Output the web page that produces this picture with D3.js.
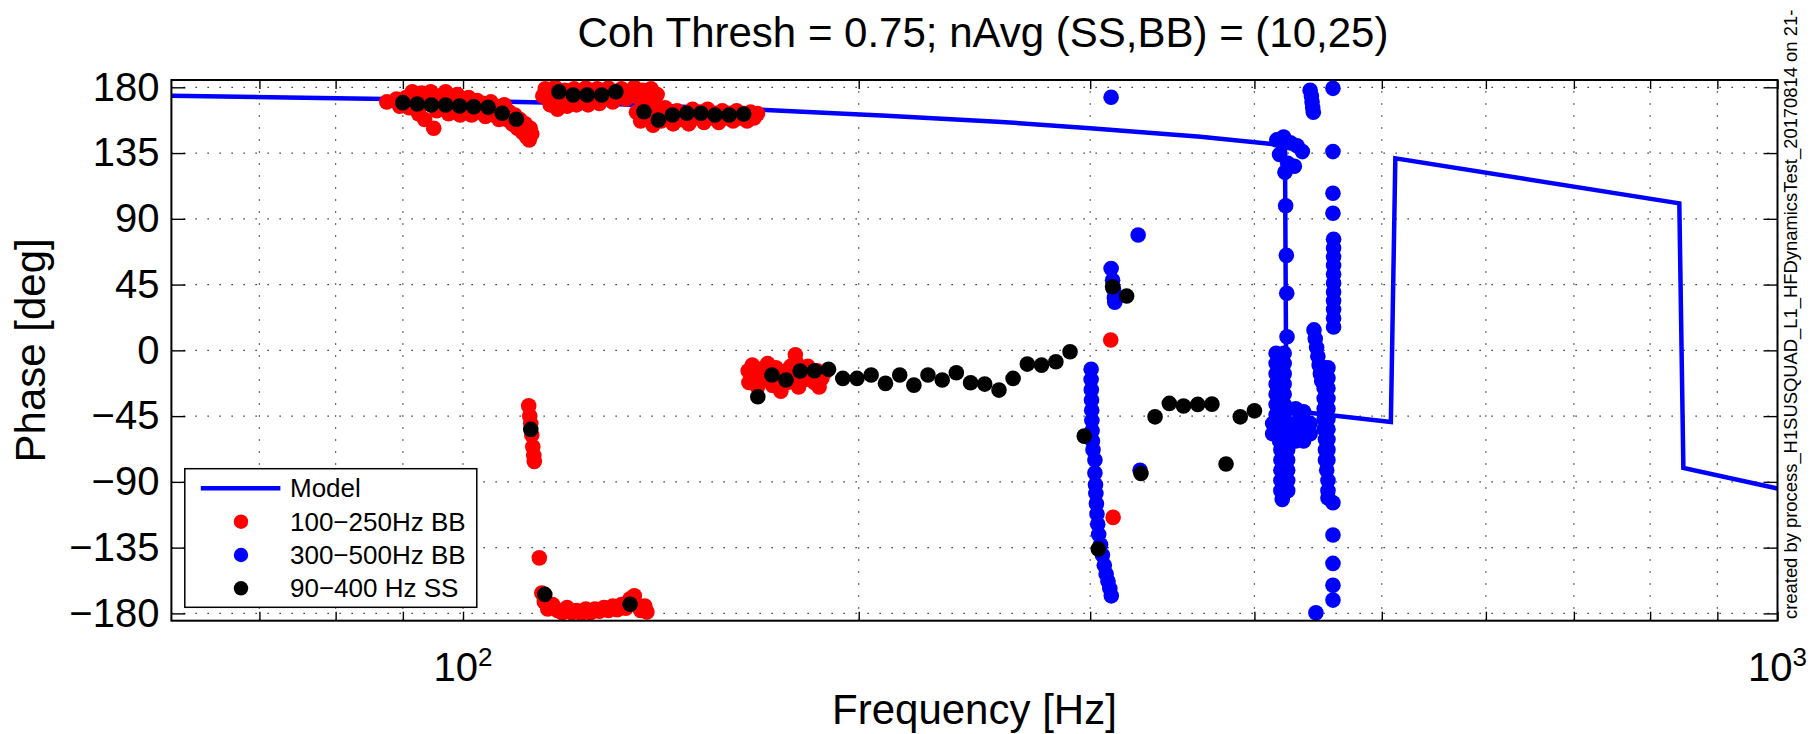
<!DOCTYPE html>
<html>
<head>
<meta charset="utf-8">
<script src="https://cdn.jsdelivr.net/npm/d3@7"></script>
<style>
body { margin: 0; background: #fff; }
text { font-family: "Liberation Sans", Arial, Helvetica, sans-serif; fill: #000; }
</style>
</head>
<body>
<script>
// ---- data ----
const modelFreq = [60, 90, 130, 170, 210, 255, 300, 364, 414, 422, 423, 442, 508, 512, 842, 848, 1000]
const modelPhase = [174.3, 171.8, 168.5, 164.5, 160.5, 156.5, 152, 146.2, 141, 140, -41, -42.8, -49, 131.4, 100.6, -80.4, -94.5]

// 90-400 Hz SS
const ssFreq = [90.0, 92.3, 94.6, 97.0, 99.4, 101.9, 104.5, 107.1, 109.8, 112.6, 115.4, 118.3, 121.3, 124.3, 127.5, 130.7,
    134.0, 137.3, 140.8, 144.3, 148.0, 151.7, 155.5, 159.4, 163.5, 167.6, 171.8, 176.1, 180.5, 185.1, 189.7, 194.5,
    199.4, 204.4, 209.6, 214.9, 220.3, 225.8, 231.5, 237.3, 243.3, 249.4, 255.7, 262.1, 268.7, 275.5, 282.5, 289.6,
    296.9, 304.3, 312.0, 319.8, 327.9, 336.1, 344.6, 353.3, 362.2, 371.3, 380.6, 390.2, 400.0]
const ssPhase = [169.5, 168.6, 167.9, 167.9, 167.2, 166.7, 166.3, 162.2, 158.1, -54.1, -167.0, 177.0, 174.7, 174.7, 174.7, 177.0,
    -173.7, 163.3, 157.6, 161.0, 162.2, 162.2, 161.0, 161.0, 161.7, -31.8, -16.9, -20.3, -14.2, -14.0, -13.0, -19.2,
    -19.2, -16.9, -22.6, -16.9, -23.8, -16.9, -20.3, -15.3, -22.2, -23.1, -27.2, -19.2, -9.4, -10.1, -7.8, -1.0,
    -58.7, -136.0, 43.5, 37.2, -84.2, -45.5, -36.3, -38.1, -37.0, -36.8, -77.8, -45.5, -41.4]

// 100-250Hz BB  [freq, phase]
const bbLow = [
    // 88-113 Hz, near +165
    [87.5, 170], [89, 172], [89.5, 167], [90.5, 173], [91, 166], [91.5, 177], [92, 170], [92.5, 162], [93, 176],
    [93.5, 158], [94, 169], [94.5, 177], [95, 152], [95.5, 164], [96, 174], [96.5, 168], [97, 177], [97.5, 162],
    [98, 172], [98.5, 166], [99, 175], [99.5, 161], [100, 170], [100.5, 165], [101, 173], [101.5, 161], [102, 168],
    [102.5, 171], [103, 163], [103.5, 169], [104, 160], [104.5, 166], [105, 170], [105.5, 161], [106, 167],
    [106.5, 158], [107, 164], [107.5, 168], [108, 158], [108.5, 163], [109, 155], [109.5, 161], [110, 152],
    [110.5, 158], [111, 149], [111.5, 155], [111.8, 146], [112, 146], [112.3, 144], [112.5, 152], [112.8, 148],
    // ~112 Hz, near -55
    [112.2, -38], [112.4, -45], [112.6, -50], [112.8, -58], [113, -66], [113.2, -72], [113.3, -76],
    [114.3, -142],
    // 115-138 Hz, near -178
    [114.8, -166], [115.3, -172], [116, -177], [117, -174], [118, -178], [119, -179.5], [120, -176], [121, -179.5],
    [122, -178], [123, -180], [124, -177], [125, -179.5], [126, -177], [127, -178.5], [128, -176], [129, -178],
    [130, -175], [131, -177.5], [132, -174], [133, -176.5], [134, -170], [135, -168], [135.5, -174], [136.5, -178],
    [137.5, -175], [138, -179],
    // 115-141 Hz, near +177
    [115, 174], [115.5, 179], [116.5, 168], [117, 176], [117.5, 180], [118, 165], [118.5, 172], [119.5, 178],
    [120, 167], [120.5, 174], [121.5, 179], [122, 168], [123, 175], [124, 179.5], [124.5, 168], [125.5, 174],
    [126.5, 179], [127, 169], [128, 175], [129, 179.5], [130, 170], [131, 176], [132, 179], [133, 172], [134, 177],
    [135, 180], [136, 173], [137, 178], [138, 174], [139, 179], [139.5, 170], [140.5, 175],
    // 135-168 Hz, near +160
    [135.5, 163], [136.5, 157], [137.5, 166], [138.5, 160], [139.5, 154], [140.5, 163], [141.5, 157], [142.5, 166],
    [143.5, 160], [144.5, 155], [145.5, 164], [146.5, 158], [147.5, 162], [148.5, 155], [149.5, 165], [150.5, 159],
    [151.5, 163], [152.5, 156], [153.5, 165], [154.5, 159], [155.5, 162], [156.5, 156], [157.5, 164], [158.5, 159],
    [159.5, 162], [160.5, 157], [161.5, 164], [162.5, 159], [163.5, 162], [164.5, 157], [165.5, 163], [166.5, 159],
    [167.5, 162],
    // 165-189 Hz, near -17
    [164.8, -14], [165, -22], [166, -10], [166.5, -18], [167.5, -25], [168.5, -13], [169.5, -20], [170.5, -9],
    [171.5, -17], [172, -24], [173, -12], [174, -20], [174.5, -28], [175.5, -15], [176.5, -22], [177.5, -11],
    [178.5, -18], [179, -3], [179.5, -9], [180, -25], [181, -14], [182, -20], [183, -11], [184, -17], [185, -22],
    [186, -14], [186.6, -25], [187.5, -19], [188.5, -15],
    [311, 7.1], [312.3, -114.3]
]

// 300-500Hz BB  [freq, phase]
const bbHigh = [
    [311.2, 173.2], [326.3, 78.9], [327.4, -82],
    [311.2, 56], [312, 48], [312.5, 42], [313, 36], [313.2, 33],
    [300.5, -13], [300.5, -20], [300.6, -27], [300.7, -34], [300.8, -41], [300.9, -48], [301, -55], [301.2, -62],
    [301.5, -68], [302.5, -75], [302.5, -84], [302.8, -92], [303, -98], [303.3, -105], [303.6, -112], [304, -119],
    [304.5, -126], [305.5, -133], [306.5, -140], [307.5, -147], [308.5, -153], [309.5, -158], [310.5, -163], [311.3, -168],
    [416, 144], [421, 146], [426, 142], [431, 140], [435, 136], [418, 134], [424, 128], [429, 126], [422, 121.8],
    [422.5, 99], [423, 65], [423.3, 39], [423.5, 9.3],
    [415.5, -2], [421.4, -2], [415.5, -9], [421.4, -9], [415.5, -16], [421.4, -16], [415.5, -23], [421.4, -23],
    [415.5, -30], [421.4, -30], [415.5, -37], [421.4, -37], [415.5, -44], [421.4, -44],
    [413, -50], [418, -50], [424, -50], [430, -50], [436, -50], [441, -50],
    [413, -57], [418, -57], [424, -57], [430, -57], [436, -57], [441, -57],
    [418, -62], [424, -62], [430, -62], [436, -62], [430, -40], [436, -42],
    [419, -68], [424, -68], [419, -75], [424, -75], [419, -82], [424, -82], [419, -89], [424, -89],
    [419, -96], [424, -96], [420, -102],
    [441, 178], [442, 174], [442.5, 170], [443, 166], [443.5, 163],
    [459, 179.3], [459, 136], [459, 107.5], [459, 93.8],
    [459.5, 76], [459.5, 70], [459.5, 64], [459.5, 58], [459.5, 52], [459.5, 46], [459.5, 40], [459.5, 34],
    [459.5, 28], [459.5, 22], [459.5, 16],
    [444, 14], [445, 8], [446, 2], [447, -4], [448, -10], [449, -16], [450, -21],
    [452, -12], [455, -12], [452, -19], [455, -19], [452, -26], [455, -26], [452, -33], [455, -33], [452, -40], [455, -40],
    [452, -47], [455, -47], [452, -54], [455, -54], [453, -61], [455, -61], [453, -68], [455, -68], [453, -75], [455, -75],
    [454, -82], [455, -89], [455, -96], [455, -101],
    [459, -104.3], [459, -126.4], [459, -145.8], [459, -160.7], [459, -170.9], [445.5, -179.6]
]

const yTicks = [-180, -135, -90, -45, 0, 45, 90, 135, 180]
const yTickLabels = ["\u2212180", "\u2212135", "\u221290", "\u221245", "0", "45", "90", "135", "180"]
const xTicks = [70, 80, 90, 100, 200, 300, 400, 500, 600, 700, 800, 900, 1000]
const xLabelTicks = [100, 1000]
const xLabelExps = ["2", "3"]
const legendLabels = ["Model", "100\u2212250Hz BB", "300\u2212500Hz BB", "90\u2212400 Hz SS"]
const legendColors = ["#0000ff", "#ff0000", "#0000ff", "#000000"]

// ---- layout ----
const svgWidth = 1811
const svgHeight = 734

const margin = {
    top: 80,
    right: 33.5,
    bottom: 113.3,
    left: 171.4
    }

const chartWidth = svgWidth - margin.left - margin.right
const chartHeight = svgHeight - margin.top - margin.bottom
const dotRadius = 7.8

const svg = d3.select("body").append("svg")
    .attr("width", svgWidth)
    .attr("height", svgHeight)

const chartG = svg.append("g")
    .attr("transform", `translate(${margin.left}, ${margin.top})`)

const x = d3.scaleLog()
    .domain([60, 1000])
    .range([0, chartWidth])

const y = d3.scaleLinear()
    .domain([-185, 185])
    .range([chartHeight, 0])

// dotted grid
chartG.append("g")
    .selectAll("line")
    .data(yTicks)
    .enter()
    .append("line")
    .attr("x1", 0)
    .attr("x2", chartWidth)
    .attr("y1", d => y(d))
    .attr("y2", d => y(d))
    .attr("stroke", "#3a3a3a")
    .attr("stroke-width", 1.2)
    .attr("stroke-dasharray", "1.5,10.5")

chartG.append("g")
    .selectAll("line")
    .data(xTicks)
    .enter()
    .append("line")
    .attr("x1", d => x(d))
    .attr("x2", d => x(d))
    .attr("y1", chartHeight)
    .attr("y2", 0)
    .attr("stroke", "#3a3a3a")
    .attr("stroke-width", 1.2)
    .attr("stroke-dasharray", "1.5,10.5")

// axes with inward ticks
const yAxisL = d3.axisLeft(y)
    .tickValues(yTicks)
    .tickFormat((d, i) => yTickLabels[i])
    .tickSizeInner(-14)
    .tickSizeOuter(0)
    .tickPadding(12)

const yAxisR = d3.axisRight(y)
    .tickValues(yTicks)
    .tickFormat("")
    .tickSizeInner(-14)
    .tickSizeOuter(0)

const xAxisB = d3.axisBottom(x)
    .tickValues(xTicks)
    .tickFormat("")
    .tickSizeInner(-9)
    .tickSizeOuter(0)

const xAxisT = d3.axisTop(x)
    .tickValues(xTicks)
    .tickFormat("")
    .tickSizeInner(-9)
    .tickSizeOuter(0)

const yL = chartG.append("g").call(yAxisL)
yL.selectAll("text").attr("font-size", 40).attr("font-family", "Liberation Sans, Arial, sans-serif")

chartG.append("g")
    .attr("transform", `translate(${chartWidth}, 0)`)
    .call(yAxisR)

chartG.append("g")
    .attr("transform", `translate(0, ${chartHeight})`)
    .call(xAxisB)

chartG.append("g")
    .call(xAxisT)

chartG.selectAll(".domain").remove()
chartG.selectAll(".tick line").attr("stroke", "#000").attr("stroke-width", 1.4)

// x tick labels as 10^n
const xLab = chartG.append("g")
    .selectAll("text")
    .data(xLabelTicks)
    .enter()
    .append("text")
    .attr("x", d => x(d))
    .attr("y", chartHeight + 60)
    .attr("text-anchor", "middle")
    .attr("font-size", 40)

xLab.append("tspan").text("10")
xLab.append("tspan")
    .attr("font-size", 26)
    .attr("dy", -15)
    .text((d, i) => xLabelExps[i])

// model line
const line = d3.line()
    .x((d, i) => x(modelFreq[i]))
    .y((d, i) => y(modelPhase[i]))

chartG.append("path")
    .attr("d", line(modelFreq))
    .attr("fill", "none")
    .attr("stroke", "#0000ff")
    .attr("stroke-width", 4.5)
    .attr("stroke-linejoin", "miter")

// measurements
chartG.append("g")
    .selectAll("circle")
    .data(bbLow)
    .enter()
    .append("circle")
    .attr("cx", d => x(d[0]))
    .attr("cy", d => y(d[1]))
    .attr("r", dotRadius)
    .attr("fill", "#ff0000")

chartG.append("g")
    .selectAll("circle")
    .data(bbHigh)
    .enter()
    .append("circle")
    .attr("cx", d => x(d[0]))
    .attr("cy", d => y(d[1]))
    .attr("r", dotRadius)
    .attr("fill", "#0000ff")

chartG.append("g")
    .selectAll("circle")
    .data(ssFreq)
    .enter()
    .append("circle")
    .attr("cx", d => x(d))
    .attr("cy", (d, i) => y(ssPhase[i]))
    .attr("r", dotRadius)
    .attr("fill", "#000000")

// frame
chartG.append("rect")
    .attr("width", chartWidth)
    .attr("height", chartHeight)
    .attr("fill", "none")
    .attr("stroke", "#000")
    .attr("stroke-width", 2)

// legend
const legend = chartG.append("g")
    .attr("transform", `translate(${184.8 - margin.left}, ${468.7 - margin.top})`)

legend.append("rect")
    .attr("width", 292)
    .attr("height", 138.6)
    .attr("fill", "#fff")
    .attr("stroke", "#000")
    .attr("stroke-width", 1.5)

legend.append("line")
    .attr("x1", 16)
    .attr("x2", 95.6)
    .attr("y1", 19.6)
    .attr("y2", 19.6)
    .attr("stroke", legendColors[0])
    .attr("stroke-width", 4.5)

legend.selectAll("circle")
    .data(legendLabels.slice(1))
    .enter()
    .append("circle")
    .attr("cx", 56.2)
    .attr("cy", (d, i) => 53 + i * 33.3)
    .attr("r", 7.2)
    .attr("fill", (d, i) => legendColors[i + 1])

legend.selectAll("text")
    .data(legendLabels)
    .enter()
    .append("text")
    .attr("x", 105.2)
    .attr("y", (d, i) => 19.6 + i * 33.3)
    .attr("dy", "0.35em")
    .attr("font-size", 26)
    .text(d => d)

// titles
svg.append("text")
    .attr("x", 983)
    .attr("y", 46.7)
    .attr("text-anchor", "middle")
    .attr("font-size", 42)
    .text("Coh Thresh = 0.75; nAvg (SS,BB) = (10,25)")

svg.append("text")
    .attr("x", margin.left + chartWidth / 2)
    .attr("y", 724)
    .attr("text-anchor", "middle")
    .attr("font-size", 42)
    .text("Frequency [Hz]")

svg.append("text")
    .attr("transform", `translate(45, ${margin.top + chartHeight / 2}) rotate(-90)`)
    .attr("text-anchor", "middle")
    .attr("font-size", 42)
    .text("Phase [deg]")

svg.append("text")
    .attr("transform", `translate(1797, 619) rotate(-90)`)
    .attr("font-size", 18.4)
    .text("created by process_H1SUSQUAD_L1_HFDynamicsTest_20170814 on 21-")
</script>
</body>
</html>
